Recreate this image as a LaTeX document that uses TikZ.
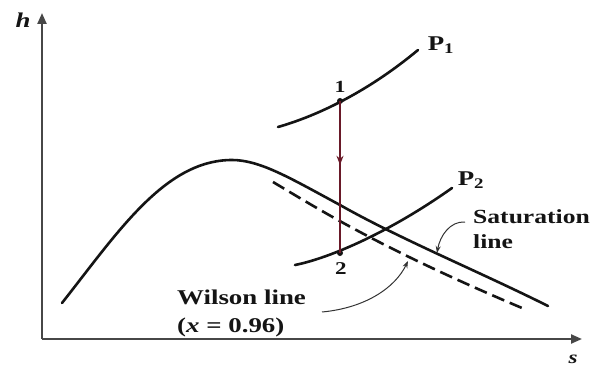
\documentclass[tikz,border=0pt]{standalone}
\usepackage{fontspec}
\usepackage{graphicx}
\setmainfont{Liberation Serif}
\usetikzlibrary{arrows.meta,decorations.markings,calc}
\definecolor{procred}{RGB}{105,25,40}
\definecolor{inkc}{RGB}{20,20,20}
\newcommand\stretchx[1]{\scalebox{1.28}[1]{#1}}
\begin{document}
\begin{tikzpicture}[x=1pt,y=-1pt,
  curve/.style={line width=2.6pt, line cap=round, draw=inkc},
  wilson/.style={line width=2.6pt, draw=inkc, dash pattern=on 13pt off 6pt},
  axis/.style={line width=2.2pt, draw=black!72, -{Triangle[length=11pt,width=9pt]}},
  lbl/.style={inner sep=0pt, text=inkc},
  leader/.style={line width=1pt, draw=black!80, -{Stealth[length=7pt,width=5pt]}},
  proc/.style={line width=2.4pt, draw=procred, postaction=decorate,
    decoration={markings, mark=at position 0.42 with {\arrow[procred]{Stealth[length=9pt,width=7pt]}}}},
  dot/.style={circle, fill=inkc, inner sep=0pt, minimum size=6pt},
]
\useasboundingbox (0,0) rectangle (592,369);
\fill[white] (0,0) rectangle (592,369);

% axes
\coordinate (O) at (42,339);
\coordinate (ytop) at (42,13);
\coordinate (xend) at (582,339);
\draw[axis] (O) -- (ytop);
\draw[axis] (O) -- (xend);
\node[lbl, font=\fontsize{21}{24}\selectfont\bfseries\itshape] (hlab) at (23,20) {\stretchx{h}};
\node[lbl, font=\fontsize{18}{22}\selectfont\bfseries\itshape] (slab) at (573,359) {\stretchx{s}};

% saturation dome
\draw[curve] (62,303) .. controls (118,232) and (165,160) .. (232,160)
  .. controls (260,160) and (290,178) .. (340,205)
  .. controls (400,239) and (480,272) .. (548,306);

% Wilson line (dashed)
\draw[wilson] (273,182) .. controls (320,210) and (380,248) .. (522,308);

% constant pressure lines
\draw[curve] (278,127) .. controls (320,115) and (370,90) .. (418,50);
\draw[curve] (295,265) .. controls (330,258) and (390,232) .. (452,188);

\node[lbl, font=\fontsize{21}{24}\selectfont\bfseries] (p1lab) at (441,45) {\stretchx{P\textsubscript{1}}};
\node[lbl, font=\fontsize{21}{24}\selectfont\bfseries] (p2lab) at (471,180) {\stretchx{P\textsubscript{2}}};

% states
\node[dot] (s1) at (340,101) {};
\node[dot] (s2) at (340,253) {};
\node[lbl, font=\fontsize{17}{20}\selectfont\bfseries] (n1) at (340,87) {\stretchx{1}};
\node[lbl, font=\fontsize{18}{20}\selectfont\bfseries] (n2) at (341,269) {\stretchx{2}};
\draw[proc] (s1.center) -- (s2.center);

% labels
\node[lbl, anchor=base west, font=\fontsize{20}{25}\selectfont\bfseries] (sat) at (473,223)
  {\stretchx{\begin{tabular}[t]{@{}l@{}}Saturation\\line\end{tabular}}};
\node[lbl, anchor=base west, font=\fontsize{21}{28}\selectfont\bfseries] (wil) at (177,304)
  {\stretchx{\begin{tabular}[t]{@{}l@{}}Wilson line\\(\textit{x} = 0.96)\end{tabular}}};

% leaders
\coordinate (sattail) at (465,222);
\coordinate (sattip) at (437,253);
\coordinate (wiltail) at (322,312);
\coordinate (wiltip) at (408,261);
\draw[leader] (sattail) .. controls (450,221) and (440,236) .. (sattip);
\draw[leader] (wiltail) .. controls (365,308) and (395,288) .. (wiltip);
\end{tikzpicture}
\end{document}
